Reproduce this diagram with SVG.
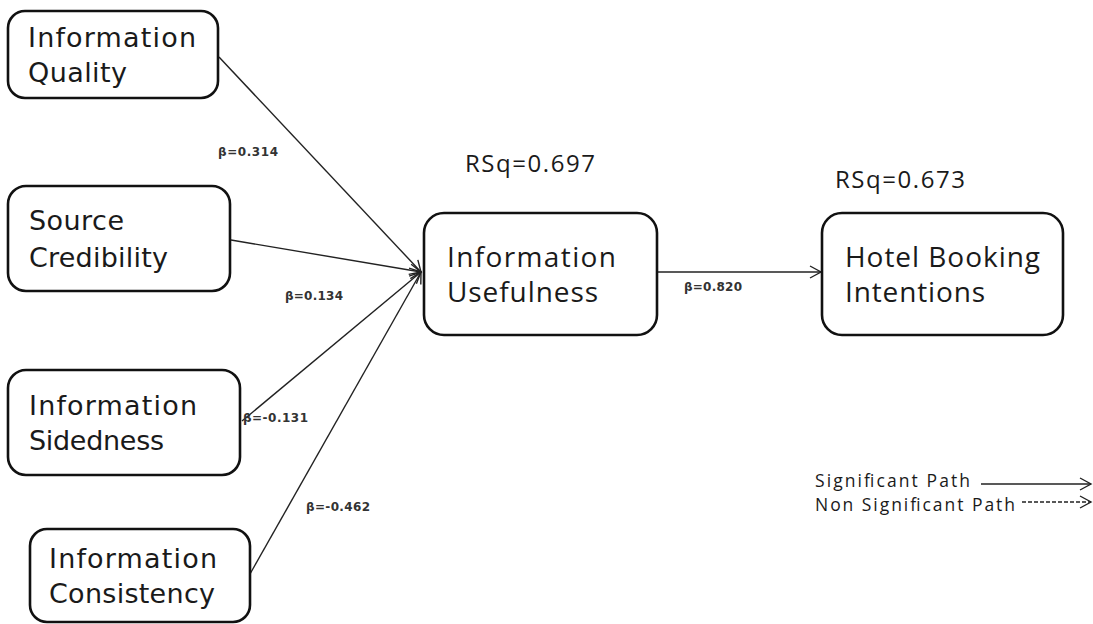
<svg xmlns="http://www.w3.org/2000/svg" width="1093" height="624" viewBox="0 0 1093 624">
<defs>
<marker id="arr" markerWidth="14" markerHeight="14" refX="12" refY="7" orient="auto" markerUnits="userSpaceOnUse">
<path d="M1,1 L12,7 L1,13" fill="none" stroke="#222" stroke-width="1.4"/>
</marker>
</defs>
<style>
.box{fill:#fff;stroke:#111;stroke-width:2.6}
.lbl{font-family:"DejaVu Sans","Liberation Sans",sans-serif;font-size:27px;fill:#1a1a1a}
.lbl2{font-family:"Open Sans","Liberation Sans",sans-serif;font-size:28px;fill:#1a1a1a}
.beta{font-family:"DejaVu Sans","Liberation Sans",sans-serif;font-size:12px;font-weight:bold;fill:#333}
.rsq{font-family:"Open Sans","Liberation Sans",sans-serif;font-size:24px;fill:#1a1a1a}
.leg{font-family:"Open Sans","Liberation Sans",sans-serif;font-size:17.5px;fill:#1a1a1a}
.con{stroke:#222;stroke-width:1.4;fill:none}
</style>
<rect width="1093" height="624" fill="#fff"/>
<g id="connectors">
<line class="con" x1="219" y1="57" x2="421" y2="272" marker-end="url(#arr)"/>
<line class="con" x1="231" y1="240" x2="421" y2="272" marker-end="url(#arr)"/>
<line class="con" x1="242" y1="421" x2="421" y2="272" marker-end="url(#arr)"/>
<line class="con" x1="250" y1="574" x2="421" y2="272" marker-end="url(#arr)"/>
<line class="con" x1="658" y1="272" x2="821" y2="272" marker-end="url(#arr)"/>
<text class="beta" x="218" y="156" textLength="60">β=0.314</text>
<text class="beta" x="285" y="300" textLength="58">β=0.134</text>
<text class="beta" x="243" y="422" textLength="65">β=-0.131</text>
<text class="beta" x="306" y="511" textLength="64">β=-0.462</text>
<text class="beta" x="684" y="291" textLength="58">β=0.820</text>
</g>
<g id="n-iq">
<rect class="box" x="8" y="11" width="210" height="87" rx="17"/>
<text class="lbl" x="28" y="47" textLength="168">Information</text>
<text class="lbl" x="28" y="82" textLength="99">Quality</text>
</g>
<g id="n-sc">
<rect class="box" x="8" y="186" width="222" height="105" rx="18"/>
<text class="lbl" x="29" y="230" textLength="95">Source</text>
<text class="lbl" x="29" y="267" textLength="139">Credibility</text>
</g>
<g id="n-is">
<rect class="box" x="8" y="370" width="232" height="105" rx="18"/>
<text class="lbl" x="29" y="415" textLength="168">Information</text>
<text class="lbl" x="29" y="450" textLength="135">Sidedness</text>
</g>
<g id="n-ic">
<rect class="box" x="30" y="529" width="220" height="93" rx="17"/>
<text class="lbl" x="49" y="568" textLength="168">Information</text>
<text class="lbl" x="49" y="603" textLength="166">Consistency</text>
</g>
<g id="n-iu">
<rect class="box" x="424" y="213" width="233" height="122" rx="20"/>
<text class="lbl2" x="447" y="267" textLength="169">Information</text>
<text class="lbl2" x="447" y="302" textLength="151">Usefulness</text>
<text class="rsq" x="465" y="172" textLength="130">RSq=0.697</text>
</g>
<g id="n-hbi">
<rect class="box" x="822" y="213" width="241" height="122" rx="20"/>
<text class="lbl2" x="845" y="267" textLength="195">Hotel Booking</text>
<text class="lbl2" x="845" y="302" textLength="140">Intentions</text>
<text class="rsq" x="835" y="188" textLength="130">RSq=0.673</text>
</g>
<g id="legend">
<text class="leg" x="815" y="487" textLength="155">Significant Path</text>
<text class="leg" x="815" y="511" textLength="200">Non Significant Path</text>
<line class="con" x1="981" y1="484" x2="1091" y2="484" marker-end="url(#arr)"/>
<line class="con" x1="1022" y1="502" x2="1091" y2="502" stroke-dasharray="4,2" marker-end="url(#arr)"/>
</g>
</svg>
